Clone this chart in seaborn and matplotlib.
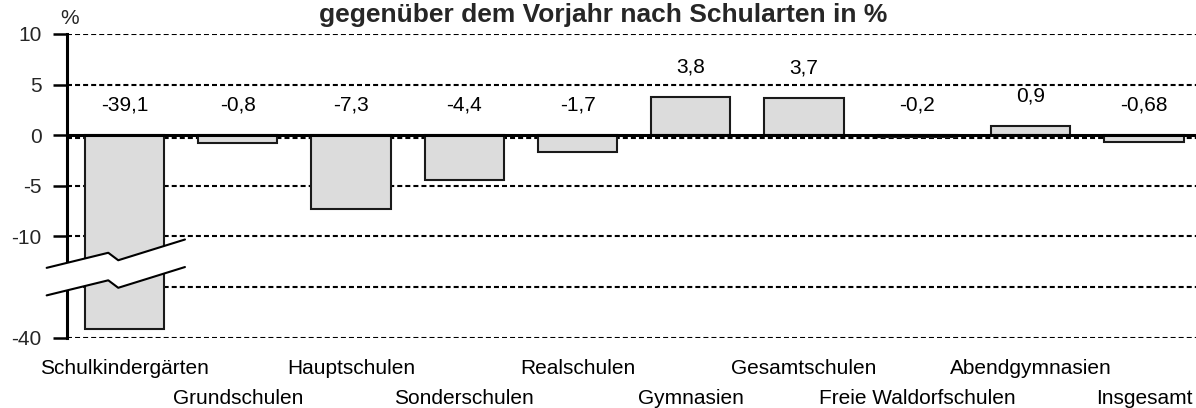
import matplotlib
matplotlib.use("Agg")
import matplotlib.pyplot as plt
import numpy as np
import pandas as pd
import seaborn as sns
from matplotlib.patches import Polygon
from matplotlib.lines import Line2D

# ---------------- data ----------------
categories = ["Schulkindergärten", "Grundschulen", "Hauptschulen", "Sonderschulen",
              "Realschulen", "Gymnasien", "Gesamtschulen", "Freie Waldorfschulen",
              "Abendgymnasien", "Insgesamt"]
values = [-39.1, -0.8, -7.3, -4.4, -1.7, 3.8, 3.7, -0.2, 0.9, -0.68]
value_labels = ["-39,1", "-0,8", "-7,3", "-4,4", "-1,7", "3,8", "3,7", "-0,2", "0,9", "-0,68"]
ytick_values = [10, 5, 0, -5, -10, -40]
ytick_labels = ["10", "5", "0", "-5", "-10", "-40"]
title = "gegenüber dem Vorjahr nach Schularten in %"

# broken axis: values below -15 are shifted up by 20 units
BREAK_SHIFT = 20


def to_display(v):
    return v + BREAK_SHIFT if v < -15 else v


sns.set_theme(style="white")
plt.rcParams['font.family'] = ['Liberation Sans', 'DejaVu Sans']
plt.rcParams['lines.scale_dashes'] = False

FS = 15
W, H = 1196, 408
fig = plt.figure(figsize=(W / 100, H / 100), dpi=100)
ax = fig.add_axes([66.7 / W, 70.3 / H, 1 - 66.7 / W, 303.7 / H])

df = pd.DataFrame({"Schulart": categories,
                   "Wert": [to_display(v) for v in values]})
sns.barplot(data=df, x="Schulart", y="Wert", order=categories, color="#DCDCDC",
            saturation=1, edgecolor="#1a1a1a", linewidth=1.5, width=0.7, ax=ax,
            zorder=2)

ax.set_xlim(-0.51, 9.46)
ax.set_ylim(-20, 10)

# grid lines (dashed)
dash = (0, (3.6, 2.2))
for yv in [10, 5, -5, -10, -15, -20]:
    ax.axhline(yv, color="black", lw=1.5, ls=dash, zorder=0.5)
ax.axhline(-0.25, color="black", lw=1.5, ls=dash, zorder=0.5)
ax.axhline(0, color="black", lw=2.2, zorder=3)

# spines
for s in ["top", "right", "bottom"]:
    ax.spines[s].set_visible(False)
ax.spines["left"].set_color("black")
ax.spines["left"].set_linewidth(2.2)

# y axis
ax.set_yticks([to_display(v) for v in ytick_values], ytick_labels)
ax.tick_params(axis="y", direction="out", length=10, width=1.8, color="black",
               labelsize=FS, pad=8, left=True)
ax.set_ylabel("")

# x axis: two staggered rows
ax.set_xlabel("")
ax.set_xticks(range(len(categories)), categories)
ax.tick_params(axis="x", length=0, pad=15, labelsize=FS, labelcolor="black")
for i, lbl in enumerate(ax.get_xticklabels()):
    if i % 2 == 1:
        lbl.set_y(-30 / 303.7)

# value labels
for i, (v, t) in enumerate(zip(values, value_labels)):
    d = to_display(v)
    ax.text(i, max(d, 0) + 2.4, t, ha="center", va="baseline", fontsize=FS,
            color="black", zorder=4)

# axis break symbol
upper = np.array([(-0.687, -13.1), (-0.143, -11.61), (-0.055, -12.35), (0.534, -10.3)])
gap = 2.72
lower = upper - np.array([0, gap])
poly = Polygon(np.vstack([upper, lower[::-1]]), closed=True, facecolor="white",
               edgecolor="none", zorder=6, clip_on=False)
ax.add_patch(poly)
for pts in (upper, lower):
    ax.add_line(Line2D(pts[:, 0], pts[:, 1], color="black", lw=1.5, zorder=7,
                       clip_on=False))

# unit label and title
fig.text(70 / W, 1 - 19 / H, "%", ha="center", va="center", fontsize=FS)
fig.text(603.5 / W, 1 - 22 / H, title, ha="center", va="baseline", fontsize=19,
         fontweight="bold")

fig.savefig("out.png", dpi=100)
